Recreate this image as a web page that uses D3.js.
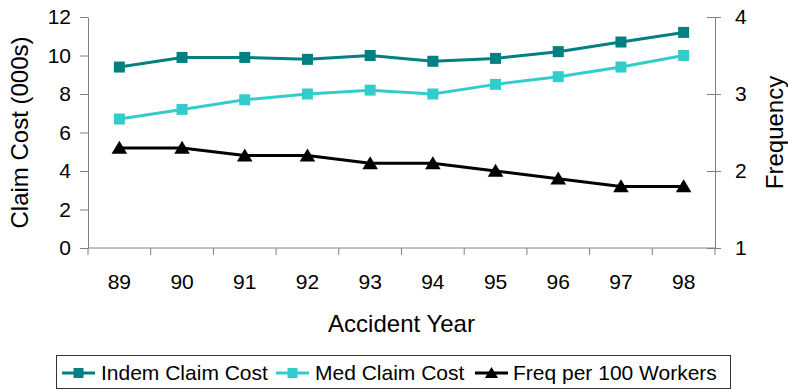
<!DOCTYPE html>
<html>
<head>
<meta charset="utf-8">
<script src="https://cdn.jsdelivr.net/npm/d3@7"></script>
<style>
  html, body { margin: 0; padding: 0; background: #fff; }
  svg { display: block; font-family: "Liberation Sans", Arial, sans-serif; }
</style>
</head>
<body>
<svg id="chart" width="788" height="391"></svg>
<script>
const years = ["89","90","91","92","93","94","95","96","97","98"];
const indemCost = [9.4, 9.9, 9.9, 9.8, 10.0, 9.7, 9.85, 10.2, 10.7, 11.2];
const medCost   = [6.7, 7.2, 7.7, 8.0, 8.2, 8.0, 8.5, 8.9, 9.4, 10.0];
const freqPer100 = [2.3, 2.3, 2.2, 2.2, 2.1, 2.1, 2.0, 1.9, 1.8, 1.8];
const leftTicks = [0, 2, 4, 6, 8, 10, 12];
const rightTicks = [1, 2, 3, 4];
const seriesNames = ["Indem Claim Cost", "Med Claim Cost", "Freq per 100 Workers"];
const seriesColors = ["#008080", "#33CCCC", "#000000"];

const svg = d3.select("#chart");
const L = 88, R = 715, T = 17, B = 248;
const axisColor = "#808080";

const x = d3.scaleBand().domain(years).range([L, R]);
const yL = d3.scaleLinear().domain([0, 12]).range([B, T]);
const yR = d3.scaleLinear().domain([1, 4]).range([B, T]);
const cx = d => x(d) + x.bandwidth() / 2;

// Left axis
const gL = svg.append("g").attr("transform", `translate(${L},0)`)
  .call(d3.axisLeft(yL).tickValues(leftTicks).tickSize(8).tickSizeOuter(0).tickPadding(9));
// Right axis
const gR = svg.append("g").attr("transform", `translate(${R},0)`)
  .call(d3.axisRight(yR).tickValues(rightTicks).tickFormat(d3.format("d"))
    .tickSize(6).tickSizeOuter(0).tickPadding(14));
gR.selectAll(".tick").append("line").attr("x1", -8).attr("x2", 0);
// Bottom axis labels
const gB = svg.append("g").attr("transform", `translate(0,${B})`)
  .call(d3.axisBottom(x).tickSize(0).tickPadding(26));
gB.select(".domain").remove();
// bottom axis line and boundary ticks
svg.append("line").attr("x1", L).attr("x2", R).attr("y1", B).attr("y2", B)
  .attr("stroke", axisColor).attr("stroke-width", 1);
const bounds = years.map(d => x(d)).concat([R]);
svg.append("g").selectAll("line").data(bounds).join("line")
  .attr("x1", d => d).attr("x2", d => d).attr("y1", B).attr("y2", B + 7)
  .attr("stroke", axisColor).attr("stroke-width", 1);

[gL, gR, gB].forEach(g => {
  g.selectAll(".domain").attr("stroke", axisColor);
  g.selectAll(".tick line").attr("stroke", axisColor);
  g.selectAll("text").attr("font-size", 21).attr("fill", "#000")
    .attr("font-family", "'Liberation Sans', Arial, sans-serif");
});

// Axis titles
svg.append("text").attr("transform", `translate(28,${(T + B) / 2}) rotate(-90)`)
  .attr("text-anchor", "middle").attr("font-size", 24).text("Claim Cost (000s)");
svg.append("text").attr("transform", `translate(783,${(T + B) / 2}) rotate(-90)`)
  .attr("text-anchor", "middle").attr("font-size", 24).text("Frequency");
svg.append("text").attr("x", (L + R) / 2).attr("y", 332)
  .attr("text-anchor", "middle").attr("font-size", 24).text("Accident Year");

// Lines
const lineL = d3.line().x((d, i) => cx(years[i])).y(d => yL(d));
const lineR = d3.line().x((d, i) => cx(years[i])).y(d => yR(d));
const triPath = (s) => `M0,${-s * 0.55} L${s * 0.6},${s * 0.45} L${-s * 0.6},${s * 0.45} Z`;

function drawSquares(data, scale, color) {
  svg.append("path").datum(data).attr("d", scale === yL ? lineL : lineR)
    .attr("fill", "none").attr("stroke", color).attr("stroke-width", 3);
  svg.append("g").selectAll("rect").data(data).join("rect")
    .attr("x", (d, i) => cx(years[i]) - 5.5).attr("y", d => scale(d) - 5.5)
    .attr("width", 11).attr("height", 11).attr("fill", color);
}
drawSquares(indemCost, yL, seriesColors[0]);
drawSquares(medCost, yL, seriesColors[1]);
svg.append("path").datum(freqPer100).attr("d", lineR)
  .attr("fill", "none").attr("stroke", seriesColors[2]).attr("stroke-width", 3);
svg.append("g").selectAll("path").data(freqPer100).join("path")
  .attr("transform", (d, i) => `translate(${cx(years[i])},${yR(d)})`)
  .attr("d", triPath(13)).attr("fill", seriesColors[2]);

// Legend
const lg = svg.append("g");
lg.append("rect").attr("x", 56.5).attr("y", 355.5).attr("width", 674).attr("height", 33)
  .attr("fill", "#fff").attr("stroke", "#333").attr("stroke-width", 1);
const legendItems = [
  { x1: 62, x2: 95, tx: 101 },
  { x1: 276, x2: 309, tx: 315 },
  { x1: 475, x2: 508, tx: 513 }
];
const ly = 373;
legendItems.forEach((it, i) => {
  lg.append("line").attr("x1", it.x1).attr("x2", it.x2).attr("y1", ly).attr("y2", ly)
    .attr("stroke", seriesColors[i]).attr("stroke-width", 3);
  const mx = (it.x1 + it.x2) / 2;
  if (i < 2) {
    lg.append("rect").attr("x", mx - 5).attr("y", ly - 5).attr("width", 10).attr("height", 10)
      .attr("fill", seriesColors[i]);
  } else {
    lg.append("path").attr("transform", `translate(${mx},${ly})`).attr("d", triPath(11))
      .attr("fill", seriesColors[i]);
  }
  lg.append("text").attr("x", it.tx).attr("y", 380).attr("font-size", 21).text(seriesNames[i]);
});
</script>
</body>
</html>
